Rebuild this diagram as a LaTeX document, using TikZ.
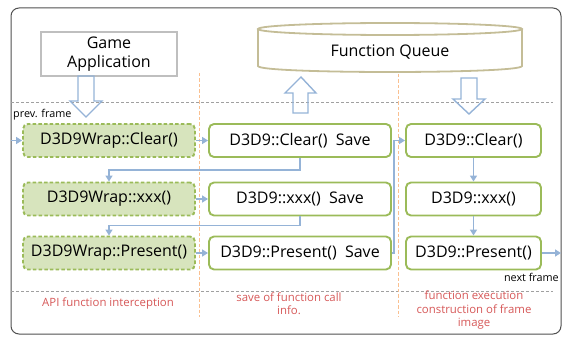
\documentclass[tikz,border=0pt]{standalone}
\usepackage{fontspec}
\setmainfont{Open Sans}
\usetikzlibrary{arrows.meta}
\definecolor{gborder}{RGB}{155,187,89}
\definecolor{gfill}{RGB}{215,228,189}
\definecolor{ablue}{RGB}{149,179,215}
\definecolor{tanc}{RGB}{196,189,151}
\definecolor{orng}{RGB}{250,192,144}
\definecolor{redt}{RGB}{214,88,88}
\definecolor{gline}{RGB}{160,160,160}
\definecolor{frame}{RGB}{80,80,80}
\begin{document}
\begin{tikzpicture}[x=1pt,y=-1pt,
  boxfont/.style={font=\fontsize{16}{18}\selectfont},
  wrapbox/.style={boxfont,draw=gborder,fill=gfill,line width=1.9pt,dash pattern=on 3.5pt off 2.2pt,rounded corners=5pt,minimum width=172pt,minimum height=33pt,inner sep=0pt},
  savebox/.style={boxfont,draw=gborder,line width=1.9pt,rounded corners=5pt,minimum width=182pt,minimum height=33pt,inner sep=0pt},
  execbox/.style={boxfont,draw=gborder,line width=1.9pt,rounded corners=5pt,minimum width=135pt,minimum height=33pt,inner sep=0pt},
  conn/.style={draw=ablue,line width=1.5pt,-{Triangle[length=6pt,width=7pt]}},
  hollow/.style={draw=ablue,line width=1.4pt,line join=miter},
  sep/.style={draw=gline,line width=1pt,dash pattern=on 3pt off 2pt},
  col/.style={draw=orng,line width=1pt,dash pattern=on 3.5pt off 2pt},
  small/.style={font=\fontsize{10.8}{12}\selectfont,inner sep=0pt},
  redtxt/.style={text=redt,font=\fontsize{11.4}{13.5}\selectfont,align=center,inner sep=0pt}
]
\useasboundingbox (0,0) rectangle (566,337);
% outer frame
\draw[frame,line width=1pt,rounded corners=8pt] (11,8) rectangle (561,334);
% separators
\draw[sep] (11,103) -- (553,103);
\draw[sep] (11,291) -- (553,291);
\draw[col] (199,73) -- (199,317);
\draw[col] (398,74) -- (398,317);
% game application
\node[draw=black!25,line width=1.8pt,minimum width=136pt,minimum height=44pt,align=center,inner sep=0pt,font=\fontsize{16}{19}\selectfont] (game) at (109,54) {Game\\Application};
% function queue cylinder
\draw[tanc,line width=1.8pt] (258,29) -- (258,66) .. controls (258,74) and (522,74) .. (522,66) -- (522,29);
\draw[tanc,line width=1.8pt] (390,29) ellipse [x radius=132, y radius=6];
\node[font=\fontsize{16}{18}\selectfont,inner sep=0pt] (queue) at (390,52) {Function Queue};
% hollow arrows
\draw[hollow] (78,76) -- (94,76) -- (94,101) -- (102,101) -- (86,117) -- (70,101) -- (78,101) -- cycle;
\draw[hollow] (293,113) -- (308,113) -- (308,93) -- (316,93) -- (301,77) -- (285,93) -- (293,93) -- cycle;
\draw[hollow] (461,78) -- (477,78) -- (477,99) -- (485,99) -- (469,114) -- (453,99) -- (461,99) -- cycle;
% boxes
\node[wrapbox] (w1) at (109,140.5) {D3D9Wrap::Clear()};
\node[wrapbox] (w2) at (109,199) {D3D9Wrap::xxx()};
\node[wrapbox] (w3) at (109,253) {D3D9Wrap::Present()};
\node[savebox] (s1) at (300,140.5) {D3D9::Clear()\ \ Save};
\node[savebox] (s2) at (300,199) {D3D9::xxx()\ \ Save};
\node[savebox] (s3) at (300,253) {D3D9::Present()\ \ Save};
\node[execbox] (e1) at (473.5,140.5) {D3D9::Clear()};
\node[execbox] (e2) at (473.5,199) {D3D9::xxx()};
\node[execbox] (e3) at (473.5,253) {D3D9::Present()};
% labels
\node[small,anchor=west] (prev) at (13,115) {prev. frame};
\node[small,anchor=east] (next) at (559,277) {next frame};
\node[redtxt] (l1) at (108,304) {API function interception};
\node[redtxt] (l2) at (289,303.5) {save of function call\\info.};
\node[redtxt] (l3) at (474,310.5) {function execution\\construction of frame\\image};
% connectors
\coordinate (inL) at (11,140.5);
\coordinate (outR) at (561,253);
\draw[conn] (inL) -- (w1.west);
\draw[conn] (w1.east) -- (s1.west);
\draw[conn] (w2.east) -- (s2.west);
\draw[conn] (w3.east) -- (s3.west);
\draw[conn] (s1.south) -- ++(0,12) -| (w2.north);
\draw[conn] (s2.south) -- ++(0,9) -| (w3.north);
\draw[conn] (s3.east) -- ++(2,0) |- (e1.west);
\draw[conn] (e1.south) -- (e2.north);
\draw[conn] (e2.south) -- (e3.north);
\draw[conn] (e3.east) -- (outR);
\end{tikzpicture}
\end{document}
